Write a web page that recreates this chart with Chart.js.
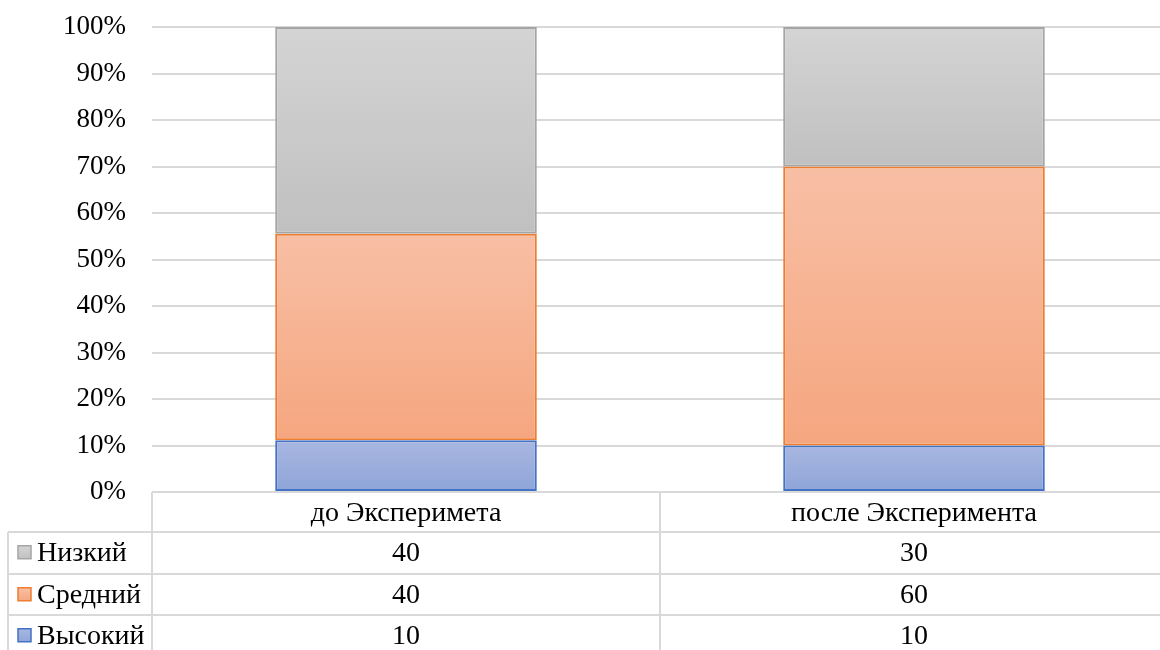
<!DOCTYPE html>
<html lang="ru">
<head>
  <meta charset="UTF-8">
  <title>Уровни до и после эксперимента</title>
  <script src="https://cdn.jsdelivr.net/npm/chart.js"></script>
  <style>
    body { margin: 0; background: #fff; overflow: hidden; }
    /* plot area runs a little past the right edge, as in the original */
    .wrap { width: 1168px; height: 650px; position: relative; }
  </style>
</head>
<body>
  <div class="wrap"><canvas id="chart"></canvas></div>
  <script>
    // data
    const categories = ['до Эксперимета', 'после Эксперимента'];
    const seriesNames = ['Высокий', 'Средний', 'Низкий'];   // bottom -> top
    const highValues = [10, 10];
    const midValues = [40, 60];
    const lowValues = [40, 30];
    const yTicks = [0, 10, 20, 30, 40, 50, 60, 70, 80, 90, 100];

    const rawSeries = [highValues, midValues, lowValues];
    const totals = categories.map((_, i) => rawSeries.reduce((s, arr) => s + arr[i], 0));
    const pctSeries = rawSeries.map(arr => arr.map((v, i) => v / totals[i] * 100));

    const FONT = "'Liberation Serif', 'Times New Roman', serif";
    const GRID = '#d9d9d9';

    const looks = [
      { top: '#a9b7e1', bottom: '#8ea4d8', border: '#4472c4' },
      { top: '#f8bfa5', bottom: '#f5a67f', border: '#ed7d31' },
      { top: '#d4d4d4', bottom: '#c0c0c0', border: '#a5a5a5' }
    ];

    // vertical gradient for every bar segment
    function segmentFill(dsIndex) {
      return (c) => {
        const chart = c.chart;
        const ys = chart.scales.y;
        if (!ys || !chart.chartArea || c.dataIndex === undefined) return looks[dsIndex].bottom;
        let base = 0;
        for (let k = 0; k < dsIndex; k++) base += pctSeries[k][c.dataIndex];
        const y0 = ys.getPixelForValue(base);
        const y1 = ys.getPixelForValue(base + pctSeries[dsIndex][c.dataIndex]);
        const g = chart.ctx.createLinearGradient(0, y1, 0, y0);
        g.addColorStop(0, looks[dsIndex].top);
        g.addColorStop(1, looks[dsIndex].bottom);
        return g;
      };
    }

    const datasets = seriesNames.map((name, d) => ({
      label: name,
      data: pctSeries[d],
      backgroundColor: segmentFill(d),
      borderColor: looks[d].border,
      borderWidth: 2,
      borderSkipped: false,
      categoryPercentage: 1,
      barPercentage: 0.515
    }));

    // data table under the plot
    const dataTable = {
      id: 'dataTable',
      afterDraw(chart) {
        const ctx = chart.ctx;
        const area = chart.chartArea;
        const colW = (area.right - area.left) / categories.length;
        const tableLeft = 8;
        const headerTop = area.bottom;
        const rowH = 41.5;
        const rowTops = [532, 574, 615];
        const bottom = chart.height;

        ctx.save();
        ctx.strokeStyle = GRID;
        ctx.lineWidth = 2;
        ctx.beginPath();
        ctx.moveTo(area.left, headerTop); ctx.lineTo(area.right, headerTop);
        rowTops.forEach(y => { ctx.moveTo(tableLeft, y); ctx.lineTo(area.right, y); });
        ctx.moveTo(tableLeft, rowTops[0]); ctx.lineTo(tableLeft, bottom);
        for (let i = 0; i < categories.length; i++) {
          const x = area.left + colW * i;
          ctx.moveTo(x, headerTop); ctx.lineTo(x, bottom);
        }
        ctx.stroke();

        ctx.fillStyle = '#000';
        ctx.font = '28px ' + FONT;
        ctx.textBaseline = 'middle';
        ctx.textAlign = 'center';
        categories.forEach((cat, i) => {
          ctx.fillText(cat, area.left + colW * (i + 0.5), headerTop + 22);
        });

        // rows: top series first
        const order = [2, 1, 0];
        order.forEach((d, r) => {
          const yMid = rowTops[r] + rowH / 2;
          // legend key
          const g = ctx.createLinearGradient(0, yMid - 7, 0, yMid + 7);
          g.addColorStop(0, looks[d].top);
          g.addColorStop(1, looks[d].bottom);
          ctx.fillStyle = g;
          ctx.fillRect(18, yMid - 7, 13, 13);
          ctx.strokeStyle = looks[d].border;
          ctx.lineWidth = 1.5;
          ctx.strokeRect(18, yMid - 7, 13, 13);
          ctx.fillStyle = '#000';
          ctx.textAlign = 'left';
          ctx.fillText(seriesNames[d], 37, yMid + 1);
          ctx.textAlign = 'center';
          rawSeries[d].forEach((v, i) => {
            ctx.fillText(String(v), area.left + colW * (i + 0.5), yMid + 1);
          });
        });
        ctx.restore();
      }
    };

    new Chart(document.getElementById('chart'), {
      type: 'bar',
      data: { labels: categories, datasets },
      options: {
        responsive: true,
        maintainAspectRatio: false,
        animation: false,
        layout: { padding: { top: 27, right: 0, bottom: 158, left: 0 } },
        plugins: {
          legend: { display: false },
          tooltip: { enabled: false }
        },
        scales: {
          x: {
            stacked: true,
            display: false
          },
          y: {
            stacked: true,
            min: 0,
            max: 100,
            afterBuildTicks(scale) { scale.ticks = yTicks.map(v => ({ value: v })); },
            afterFit(scale) {
              scale.width = 152;
              scale.paddingTop = 0;
              scale.paddingBottom = 0;
            },
            border: { display: false },
            grid: { color: GRID, lineWidth: 2, drawTicks: false },
            ticks: {
              padding: 26,
              color: '#000',
              font: { family: FONT, size: 27 },
              callback: v => v + '%'
            }
          }
        }
      },
      plugins: [dataTable]
    });
  </script>
</body>
</html>
